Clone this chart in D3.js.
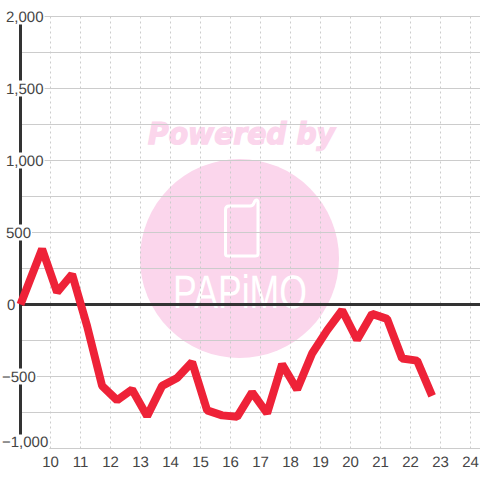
<!DOCTYPE html>
<html><head><meta charset="utf-8">
<script src="https://cdnjs.cloudflare.com/ajax/libs/d3/7.8.5/d3.min.js"></script>
<style>html,body{margin:0;padding:0;background:#fff}svg{display:block}text{text-rendering:geometricPrecision}</style>
</head><body><svg id="c" width="480" height="480"></svg>
<script>
const hours = [9,9.72,10.22,10.72,11.22,11.72,12.22,12.72,13.22,13.72,14.22,14.72,15.22,15.72,16.22,16.72,17.22,17.72,18.22,18.72,19.22,19.72,20.22,20.72,21.22,21.72,22.22,22.72];
const values = [0,385,85,210,-150,-565,-665,-590,-775,-565,-510,-400,-735,-770,-780,-610,-755,-415,-590,-340,-180,-40,-245,-65,-100,-375,-390,-635];
const majorTicks = [2000,1500,1000,500,0,-500,-1000];
const minorTicks = [1750,1250,750,250,-250,-750];
const xTicks = [10,11,12,13,14,15,16,17,18,19,20,21,22,23,24];

const W = 480, H = 480;
const svg = d3.select("#c");
const x = d3.scaleLinear().domain([9,24]).range([20.5,470.5]);
const y = d3.scaleLinear().domain([-1000,2000]).range([448.5,16.5]);
const font = "'Liberation Sans',Arial,sans-serif";

svg.append("rect").attr("width",W).attr("height",H).attr("fill","#fff");

// watermark
const wm = svg.append("g");
wm.append("circle").attr("cx",239.5).attr("cy",258.5).attr("r",99.5).attr("fill","#fbd6ec");
wm.append("text").attr("x",148).attr("y",144).text("Powered by")
  .attr("font-family","'DejaVu Sans'").attr("font-weight","bold").attr("font-style","italic")
  .attr("font-size",30).attr("fill","#fbd6ec").attr("stroke","#fbd6ec").attr("stroke-width",1.4)
  .attr("textLength",187).attr("lengthAdjust","spacingAndGlyphs");
wm.append("path").attr("d","M229 206 H250 Q253 206 254 203 Q255 200 256.5 200 Q258 200 258 203 V254 Q258 256 255 256 H228 Q225.5 256 225.5 254 V210 Q225.5 206 229 206 Z")
  .attr("fill","none").attr("stroke","#fff").attr("stroke-width",3);
wm.append("text").attr("x",173).attr("y",308).text("PAPiMO")
  .attr("font-family","'Liberation Sans Narrow','Liberation Sans'")
  .attr("font-size",47).attr("fill","#fff").attr("textLength",134).attr("lengthAdjust","spacingAndGlyphs");

// grid
svg.append("g").selectAll("line").data(minorTicks.concat(majorTicks)).join("line")
  .attr("x1",x(9)).attr("x2",W).attr("y1",d=>y(d)).attr("y2",d=>y(d))
  .attr("stroke","#ccc").attr("stroke-width",1);
svg.append("g").selectAll("line").data(xTicks).join("line")
  .attr("x1",d=>x(d)).attr("x2",d=>x(d)).attr("y1",y(2000)).attr("y2",y(-1000))
  .attr("stroke","#ccc").attr("stroke-width",1).attr("stroke-dasharray","2,3");

// axes
svg.append("line").attr("x1",x(9)).attr("x2",x(9)).attr("y1",y(2000)).attr("y2",y(-1000))
  .attr("stroke","#333").attr("stroke-width",3);
svg.append("line").attr("x1",x(9)).attr("x2",W).attr("y1",y(0)).attr("y2",y(0))
  .attr("stroke","#333").attr("stroke-width",3);

// y labels with white backing
const fmt = d3.format(",");
const yl = svg.append("g").selectAll("g").data(majorTicks).join("g");
const yt = yl.append("text").text(d=>fmt(d))
  .attr("x",d=>d<0?2:(d===0?7:6))
  .attr("y",d=>(d===-1000?y(d)-1.5:y(d)+5.5))
  .attr("font-family",font).attr("font-size",15).attr("fill","#444");
yl.insert("rect","text").each(function(d){
  const b = this.parentNode.querySelector("text").getBBox();
  d3.select(this).attr("x",b.x-1).attr("width",b.width+2)
    .attr("y",(d===-1000?y(d)-14:y(d)-8)).attr("height",16).attr("fill","#fff");
});

// x labels
svg.append("g").selectAll("text").data(xTicks).join("text")
  .attr("x",d=>x(d)).attr("y",467).attr("text-anchor","middle").text(d=>d)
  .attr("font-family",font).attr("font-size",15).attr("fill","#444");

// series
const line = d3.line().x((d,i)=>x(hours[i])).y(d=>y(d));
svg.append("path").attr("d",line(values)).attr("fill","none")
  .attr("stroke","#ee2238").attr("stroke-width",8).attr("stroke-linejoin","bevel");
</script></body></html>
